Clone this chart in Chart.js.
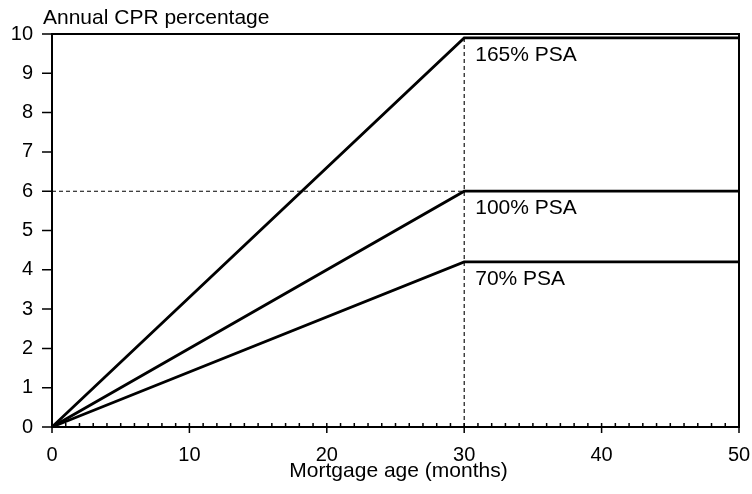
<!DOCTYPE html>
<html>
<head>
<meta charset="utf-8">
<script src="https://cdn.jsdelivr.net/npm/chart.js@4"></script>
<style>
  html, body { margin: 0; padding: 0; background: #fff; }
  #wrap { width: 752px; height: 494px; }
</style>
</head>
<body>
<div id="wrap"><canvas id="c" width="752" height="494"></canvas></div>
<script>
// ---- Data ----
const months = [0, 30, 50];
const psa165 = [0, 9.9, 9.9];
const psa100 = [0, 6, 6];
const psa70 = [0, 4.2, 4.2];
const seriesLabels = ['165% PSA', '100% PSA', '70% PSA'];
const guideHx = [0, 30];
const guideHy = [6, 6];
const guideVx = [30, 30];
const guideVy = [0, 10];
const xTickValues = [0, 10, 20, 30, 40, 50];
const yTickValues = [0, 1, 2, 3, 4, 5, 6, 7, 8, 9, 10];
const yTitle = 'Annual CPR percentage';
const xTitle = 'Mortgage age (months)';

const FONT = '"Liberation Sans", Arial, Helvetica, sans-serif';
const pts = (xs, ys) => xs.map((x, i) => ({ x: x, y: ys[i] }));

const seriesData = [psa165, psa100, psa70];
const datasets = seriesData.map((ys, i) => ({
  label: seriesLabels[i],
  data: pts(months, ys),
  borderColor: '#000',
  borderWidth: 2.8,
  pointRadius: 0,
  tension: 0,
  clip: false
}));
datasets.push({ label: 'h', data: pts(guideHx, guideHy), borderColor: '#000', borderWidth: 1.1, borderDash: [4, 3], pointRadius: 0 });
datasets.push({ label: 'v', data: pts(guideVx, guideVy), borderColor: '#000', borderWidth: 1.1, borderDash: [4, 3], pointRadius: 0 });

const decor = {
  id: 'decor',
  afterDraw(chart) {
    const ctx = chart.ctx, a = chart.chartArea;
    const xs = chart.scales.x, ys = chart.scales.y;
    ctx.save();
    ctx.strokeStyle = '#000';
    ctx.lineWidth = 2;
    ctx.beginPath();
    ctx.moveTo(a.left, a.top); ctx.lineTo(a.right, a.top); ctx.lineTo(a.right, a.bottom);
    ctx.stroke();
    ctx.lineWidth = 1.5;
    ctx.beginPath();
    for (let m = xs.min; m <= xs.max; m++) {
      const px = xs.getPixelForValue(m);
      ctx.moveTo(px, a.bottom); ctx.lineTo(px, a.bottom - 4);
    }
    xTickValues.forEach(v => {
      const px = xs.getPixelForValue(v);
      ctx.moveTo(px, a.bottom); ctx.lineTo(px, a.bottom + 6);
    });
    yTickValues.forEach(v => {
      const py = ys.getPixelForValue(v);
      ctx.moveTo(a.left, py); ctx.lineTo(a.left - 10, py);
    });
    ctx.stroke();
    ctx.fillStyle = '#000';
    ctx.font = '21px ' + FONT;
    ctx.textAlign = 'left';
    ctx.textBaseline = 'alphabetic';
    seriesData.forEach((ysArr, i) => {
      const px = xs.getPixelForValue(months[1]) + 11;
      const py = ys.getPixelForValue(ysArr[1]) + 23;
      ctx.fillText(seriesLabels[i], px, py);
    });
    ctx.fillText(yTitle, 43, 24);
    ctx.textAlign = 'center';
    ctx.fillText(xTitle, (a.left + a.right) / 2 + 3, 477);
    ctx.restore();
  }
};

new Chart(document.getElementById('c'), {
  type: 'line',
  data: { datasets: datasets },
  options: {
    responsive: false,
    animation: false,
    devicePixelRatio: 1,
    layout: { padding: { top: 34, right: 13, bottom: 0, left: 0 } },
    plugins: { legend: { display: false }, tooltip: { enabled: false } },
    scales: {
      x: {
        type: 'linear', min: 0, max: 50,
        afterBuildTicks(s) { s.ticks = xTickValues.map(v => ({ value: v })); },
        afterFit(s) { s.height = 67; s.paddingLeft = 0; s.paddingRight = 0; },
        grid: { display: false },
        border: { display: true, color: '#000', width: 2 },
        ticks: { color: '#000', font: { size: 20, family: FONT }, padding: 8, maxRotation: 0, autoSkip: false }
      },
      y: {
        type: 'linear', min: 0, max: 10,
        afterBuildTicks(s) { s.ticks = yTickValues.map(v => ({ value: v })); },
        afterFit(s) { s.width = 52; },
        grid: { display: false },
        border: { display: true, color: '#000', width: 2 },
        ticks: { color: '#000', font: { size: 20, family: FONT }, padding: 11, autoSkip: false }
      }
    }
  },
  plugins: [decor]
});
</script>
</body>
</html>
